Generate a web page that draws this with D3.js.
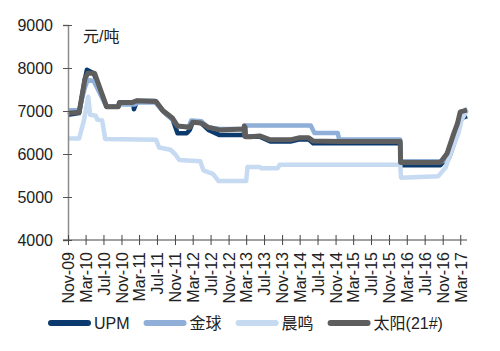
<!DOCTYPE html>
<html>
<head>
<meta charset="utf-8">
<script src="https://cdn.jsdelivr.net/npm/d3@7"></script>
<style>
  body { margin: 0; background: #fff; }
  text { font-family: "Liberation Sans", Arial, "Noto Sans CJK SC", sans-serif; }
</style>
</head>
<body>
<div id="chart"></div>
<script>
const WIDTH = 500;
const HEIGHT = 351;

// tick labels on the x axis (every 4 months)
const xTickLabels = ["Nov-09", "Mar-10", "Jul-10", "Nov-10", "Mar-11", "Jul-11", "Nov-11", "Mar-12",
  "Jul-12", "Nov-12", "Mar-13", "Jul-13", "Nov-13", "Mar-14", "Jul-14", "Nov-14", "Mar-15", "Jul-15",
  "Nov-15", "Mar-16", "Jul-16", "Nov-16", "Mar-17"];
const yTicks = [4000, 5000, 6000, 7000, 8000, 9000];

const seriesNames = ["UPM", "金球", "晨鸣", "太阳(21#)"];
const seriesColors = ["#0b3a6f", "#8fafd9", "#c6daf2", "#5e5e5e"];

// UPM
const upmDates = ["2009-11-01", "2010-01-16", "2010-02-25", "2010-03-10", "2010-04-25", "2010-07-22",
  "2010-10-10", "2010-10-16", "2011-01-20", "2011-01-25", "2011-02-10", "2011-02-15", "2011-06-19",
  "2011-08-10", "2011-10-16", "2011-11-19", "2012-01-20", "2012-02-10", "2012-03-01", "2012-04-28",
  "2012-06-16", "2012-09-01", "2013-02-13", "2013-02-18", "2013-02-24", "2013-04-01", "2013-06-01",
  "2013-08-13", "2013-12-28", "2014-03-01", "2014-05-01", "2014-06-01", "2016-01-16", "2016-01-19",
  "2016-10-16", "2016-12-10", "2017-01-20", "2017-02-20", "2017-03-15", "2017-04-16"];
const upmValues = [6910, 6950, 7750, 7960, 7880, 7100,
  7100, 7200, 7200, 7040, 7200, 7230, 7230,
  7000, 6800, 6480, 6480, 6560, 6740, 6720,
  6560, 6440, 6440, 6650, 6400, 6400, 6400,
  6290, 6290, 6340, 6340, 6250, 6250, 5740,
  5740, 5960, 6400, 6700, 6840, 6880];

// 金球
const jinqiuDates = ["2009-11-01", "2010-01-16", "2010-02-25", "2010-03-16", "2010-04-25", "2010-07-22",
  "2010-10-10", "2010-10-16", "2011-02-01", "2011-02-15", "2011-06-19", "2011-08-10", "2011-10-16",
  "2011-11-19", "2012-02-01", "2012-02-20", "2012-05-01", "2012-06-16", "2012-09-01", "2013-02-13",
  "2013-02-18", "2014-05-16", "2014-06-10", "2014-11-16", "2014-11-25", "2016-01-16", "2016-01-19",
  "2016-11-01", "2016-12-15", "2017-01-25", "2017-02-25", "2017-03-10", "2017-04-16"];
const jinqiuValues = [7020, 7020, 7550, 7720, 7700, 7100,
  7100, 7150, 7150, 7200, 7200, 7000, 6800,
  6650, 6620, 6780, 6760, 6620, 6580, 6580,
  6660, 6660, 6490, 6490, 6340, 6340, 5830,
  5830, 5900, 6300, 6700, 6950, 7050];

// 晨鸣
const chenmingDates = ["2009-11-01", "2010-01-16", "2010-02-19", "2010-03-19", "2010-04-01", "2010-05-10",
  "2010-05-19", "2010-06-22", "2010-07-13", "2011-06-25", "2011-07-16", "2011-10-01", "2011-11-01",
  "2011-12-01", "2012-04-22", "2012-05-13", "2012-07-16", "2012-08-25", "2013-03-01", "2013-03-10",
  "2013-06-01", "2013-06-10", "2013-10-01", "2013-10-16", "2016-01-16", "2016-01-22", "2016-10-01",
  "2016-11-22", "2017-01-01", "2017-02-16", "2017-03-10", "2017-04-16"];
const chenmingValues = [6360, 6360, 6800, 7330, 6910, 6890,
  6800, 6780, 6350, 6330, 6150, 6100, 6000,
  5860, 5830, 5620, 5540, 5370, 5370, 5700,
  5700, 5670, 5670, 5750, 5750, 5450, 5480,
  5690, 6090, 6480, 6790, 7020];

// 太阳(21#)
const taiyangDates = ["2009-11-01", "2010-01-16", "2010-02-25", "2010-03-16", "2010-05-01", "2010-07-22",
  "2010-10-10", "2010-10-20", "2011-01-15", "2011-02-15", "2011-06-25", "2011-08-10", "2011-10-16",
  "2011-11-19", "2012-02-10", "2012-03-01", "2012-04-28", "2012-06-16", "2012-09-01", "2013-02-13",
  "2013-02-16", "2013-02-18", "2013-02-22", "2013-02-24", "2013-04-01", "2013-06-01", "2013-08-13",
  "2013-12-28", "2014-03-01", "2014-05-01", "2014-06-01", "2014-12-01", "2016-01-16", "2016-01-19",
  "2016-10-16", "2016-12-01", "2017-01-16", "2017-02-10", "2017-03-01", "2017-04-16"];
const taiyangValues = [6950, 6970, 7750, 7880, 7880, 7100,
  7100, 7200, 7200, 7240, 7220, 7010, 6830,
  6650, 6620, 6740, 6720, 6620, 6560, 6580,
  6650, 6420, 6620, 6400, 6400, 6420, 6330,
  6330, 6380, 6380, 6300, 6290, 6290, 5800,
  5800, 6010, 6480, 6710, 6980, 7020];

const seriesDates = [upmDates, jinqiuDates, chenmingDates, taiyangDates];
const seriesValues = [upmValues, jinqiuValues, chenmingValues, taiyangValues];

const parseDate = d3.timeParse("%Y-%m-%d");
const parseTick = d3.timeParse("%b-%y");

const svg = d3.select("#chart")
  .append("svg")
  .attr("width", WIDTH)
  .attr("height", HEIGHT);

const x = d3.scaleTime()
  .domain([parseDate("2009-11-01"), parseDate("2017-04-16")])
  .range([68, 467]);

const y = d3.scaleLinear()
  .domain([4000, 9000])
  .range([240, 25]);

// lines
const line = d3.line()
  .x(d => x(d.date))
  .y(d => y(d.value));

seriesNames.forEach((name, i) => {
  const pts = seriesDates[i].map((d, j) => ({ date: parseDate(d), value: seriesValues[i][j] }));
  svg.append("path")
    .datum(pts)
    .attr("fill", "none")
    .attr("stroke", seriesColors[i])
    .attr("stroke-width", i === 3 ? 5 : 4.5)
    .attr("stroke-linejoin", "round")
    .attr("d", line);
});

// y axis
const yAxisG = svg.append("g")
  .attr("transform", "translate(68,0)")
  .call(d3.axisLeft(y).tickValues(yTicks).tickSize(5).tickPadding(10).tickFormat(d3.format("d")));
yAxisG.select(".domain").attr("stroke", "#8c8c8c").attr("stroke-width", 1.5);
yAxisG.selectAll(".tick line").attr("x1", -5).attr("x2", 4).attr("stroke", "#555");
yAxisG.selectAll(".tick text")
  .attr("font-size", "16px")
  .attr("fill", "#222")
  .style("font-family", '"Liberation Sans", Arial, sans-serif');

// x axis
const xAxisG = svg.append("g")
  .attr("transform", "translate(0,240)")
  .call(d3.axisBottom(x)
    .tickValues(xTickLabels.map(parseTick))
    .tickSize(5)
    .tickFormat(d3.timeFormat("%b-%y")));
xAxisG.select(".domain").attr("d", "M63,0H467").attr("stroke", "#444");
xAxisG.selectAll(".tick line").attr("y1", -5).attr("y2", 5).attr("stroke", "#444");
xAxisG.selectAll(".tick text")
  .attr("font-size", "16px")
  .attr("fill", "#222")
  .attr("text-anchor", "end")
  .attr("transform", "rotate(-90)")
  .attr("x", -12)
  .attr("y", 0)
  .attr("dy", "0.36em")
  .style("font-family", '"Liberation Sans", Arial, sans-serif');

// unit label
svg.append("text")
  .attr("x", 83)
  .attr("y", 42)
  .attr("font-size", "16px")
  .attr("fill", "#222")
  .text("元/吨");

// legend
const legend = svg.append("g").attr("transform", "translate(0,323)");
let lx = 48;
seriesNames.forEach((name, i) => {
  legend.append("line")
    .attr("x1", lx + 3).attr("x2", lx + 40)
    .attr("y1", 0).attr("y2", 0)
    .attr("stroke", seriesColors[i])
    .attr("stroke-width", 6)
    .attr("stroke-linecap", "round");
  const t = legend.append("text")
    .attr("x", lx + 46)
    .attr("y", 0)
    .attr("dy", "0.36em")
    .attr("font-size", "16px")
    .attr("fill", "#222")
    .text(name);
  lx += 46 + t.node().getComputedTextLength() + 14;
});
</script>
</body>
</html>
